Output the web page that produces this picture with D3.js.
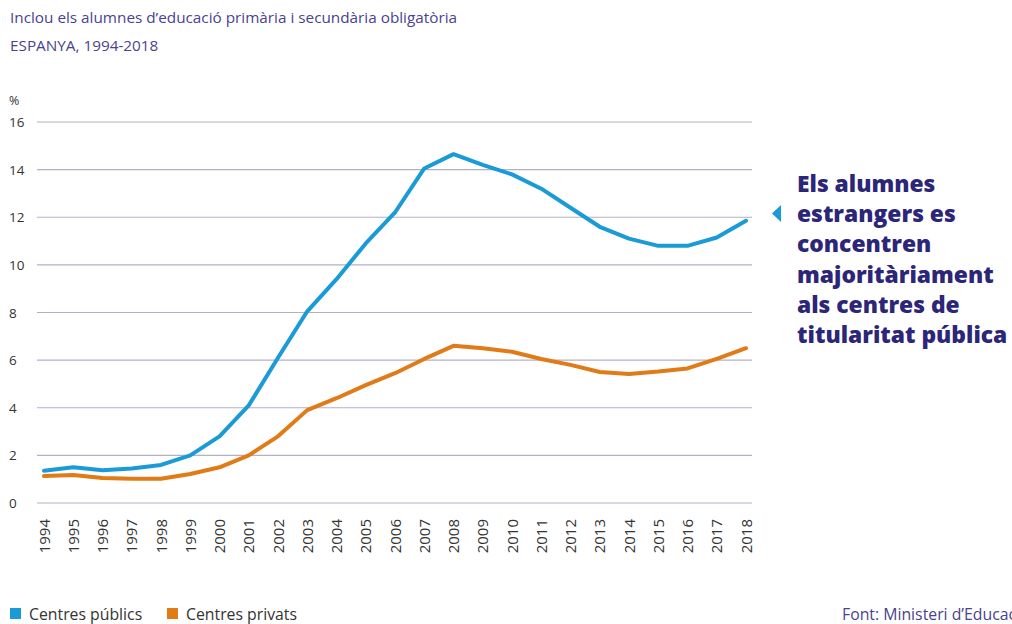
<!DOCTYPE html>
<html><head><meta charset="utf-8">
<script src="https://cdn.jsdelivr.net/npm/d3@7"></script>
<style>body{margin:0;background:#fff;}svg{display:block;font-family:"Open Sans",Roboto,sans-serif;}</style>
</head><body>
<svg id="c" width="1012" height="624"></svg>
<script>
const years = ["1994","1995","1996","1997","1998","1999","2000","2001","2002","2003","2004","2005","2006","2007","2008","2009","2010","2011","2012","2013","2014","2015","2016","2017","2018"];
const publics = [1.35,1.5,1.38,1.45,1.6,2.0,2.8,4.1,6.1,8.05,9.4,10.9,12.2,14.05,14.65,14.2,13.8,13.2,12.4,11.6,11.1,10.8,10.8,11.15,11.85];
const privats = [1.13,1.18,1.05,1.02,1.02,1.22,1.5,2.0,2.8,3.9,4.4,4.95,5.45,6.05,6.6,6.5,6.35,6.05,5.8,5.5,5.42,5.52,5.65,6.05,6.5];
const yTicks = [0,2,4,6,8,10,12,14,16];
const seriesNames = ["Centres públics","Centres privats"];
const colors = ["#1b9ad8","#e07b17"];
const annotation = ["Els alumnes","estrangers es","concentren","majoritàriament","als centres de","titularitat pública"];

const svg = d3.select("#c");
const textCol = "#4a4290";
svg.append("text").attr("x",10).attr("y",23).attr("fill",textCol).attr("font-size",15.3)
  .text("Inclou els alumnes d’educació primària i secundària obligatòria");
svg.append("text").attr("x",10).attr("y",51).attr("fill",textCol).attr("font-size",15.3)
  .text("ESPANYA, 1994-2018");

const x = d3.scalePoint().domain(years).range([44,746]);
const y = d3.scaleLinear().domain([0,16]).range([503,122]);

// grid
const g = svg.append("g");
g.selectAll("line.grid").data(yTicks).join("line")
  .attr("x1",37).attr("x2",752).attr("y1",d=>y(d)).attr("y2",d=>y(d))
  .attr("stroke","#b3b0c6").attr("stroke-width",1.2);
g.selectAll("text.yt").data(yTicks).join("text")
  .attr("x",9).attr("y",d=>y(d)+5).attr("font-size",13.5).attr("fill","#333")
  .text(d=>d);
svg.append("text").attr("x",9).attr("y",105).attr("font-size",12.5).attr("fill","#333").text("%");

// x axis labels
svg.append("g").selectAll("text").data(years).join("text")
  .attr("transform",d=>`translate(${x(d)+5.5},519) rotate(-90)`)
  .attr("text-anchor","end").attr("font-size",15).attr("fill","#333").text(d=>d);

// lines
const line = d3.line().x((d,i)=>x(years[i])).y(d=>y(d));
[publics,privats].forEach((s,k)=>{
  svg.append("path").datum(s).attr("d",line).attr("fill","none")
    .attr("stroke",colors[k]).attr("stroke-width",4).attr("stroke-linejoin","round").attr("stroke-linecap","round");
});

// legend
const lg = svg.append("g");
const legX = [10,167];
seriesNames.forEach((n,i)=>{
  lg.append("rect").attr("x",legX[i]).attr("y",608).attr("width",11).attr("height",11).attr("fill",colors[i]);
  lg.append("text").attr("x",legX[i]+19).attr("y",620).attr("font-size",15.8).attr("fill","#333").text(n);
});

svg.append("text").attr("x",842).attr("y",620).attr("font-size",15.8).attr("fill",textCol)
  .text("Font: Ministeri d’Educació");

// annotation
svg.append("path").attr("d","M772,213.5 L781,205 L781,222 Z").attr("fill","#1b9ad8");
const an = svg.append("text").attr("x",797).attr("font-size",22.8).attr("font-weight",800).attr("fill","#2c2678");
annotation.forEach((t,i)=>{
  an.append("tspan").attr("x",797).attr("y",192+i*30.2).text(t);
});
</script>
</body></html>
